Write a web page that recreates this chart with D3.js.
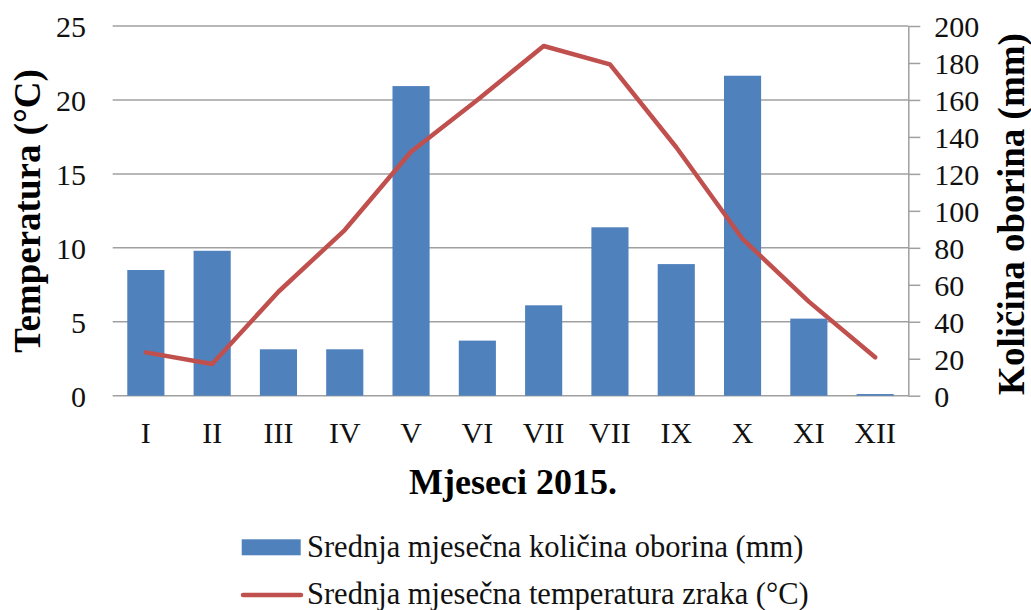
<!DOCTYPE html>
<html>
<head>
<meta charset="utf-8">
<script src="https://cdn.jsdelivr.net/npm/d3@7"></script>
<style>
  body { margin: 0; background: #fff; }
  svg text { font-family: "Liberation Serif", "Times New Roman", serif; }
</style>
</head>
<body>
<script>
// months 2015
var months = ["I", "II", "III", "IV", "V", "VI", "VII", "VII", "IX", "X", "XI", "XII"];
// precipitation (mm), right axis
var precip = [68, 78.4, 25.1, 25.1, 167.5, 29.8, 48.9, 91.1, 71.2, 173.1, 41.7, 0.9];
// air temperature (°C), left axis
var temp = [2.93, 2.14, 7.03, 11.2, 16.5, 20.0, 23.65, 22.4, 16.8, 10.6, 6.36, 2.6];
var tempTicks = [0, 5, 10, 15, 20, 25];
var precipTicks = [0, 20, 40, 60, 80, 100, 120, 140, 160, 180, 200];

var width = 1031,
  height = 610;
var plotLeft = 112.7,
  plotRight = 908.3,
  plotTop = 26,
  plotBottom = 395.7;
var serif = "Liberation Serif";

var svg = d3
  .select("body")
  .append("svg")
  .attr("width", width)
  .attr("height", height);

var x = d3
  .scaleBand()
  .domain(d3.range(months.length))
  .range([plotLeft, plotRight])
  .paddingInner(0.44)
  .paddingOuter(0.22);
var yT = d3.scaleLinear().domain([0, 25]).range([plotBottom, plotTop]);
var yP = d3.scaleLinear().domain([0, 200]).range([plotBottom, plotTop]);

// gridlines
svg
  .append("g")
  .selectAll("line")
  .data(tempTicks)
  .enter()
  .append("line")
  .attr("x1", plotLeft)
  .attr("x2", plotRight)
  .attr("y1", d => yT(d))
  .attr("y2", d => yT(d))
  .attr("stroke", "#a0a0a0")
  .attr("stroke-width", 1.5);

// left tick labels
svg
  .append("g")
  .selectAll("text")
  .data(tempTicks)
  .enter()
  .append("text")
  .attr("x", 86)
  .attr("y", d => yT(d))
  .attr("dy", "0.36em")
  .attr("text-anchor", "end")
  .attr("font-family", serif)
  .attr("font-size", 30)
  .attr("fill", "#111")
  .text(d => d);

// right axis
var rAxis = svg
  .append("g")
  .attr("transform", "translate(" + plotRight + ",0)")
  .call(
    d3
      .axisRight(yP)
      .tickValues(precipTicks)
      .tickSize(12)
      .tickPadding(14)
      .tickSizeOuter(0)
  );
rAxis.select(".domain").attr("stroke", "#a0a0a0").attr("stroke-width", 1.5);
rAxis.selectAll(".tick line").attr("stroke", "#a0a0a0").attr("stroke-width", 1.5);
rAxis
  .selectAll(".tick text")
  .attr("font-family", serif)
  .attr("font-size", 30)
  .attr("fill", "#111")
  .attr("dy", "0.36em");

// bars
svg
  .append("g")
  .selectAll("rect")
  .data(precip)
  .enter()
  .append("rect")
  .attr("x", (d, i) => x(i))
  .attr("width", x.bandwidth())
  .attr("y", d => yP(d))
  .attr("height", d => yP(0) - yP(d))
  .attr("fill", "#4f81bd");

// temperature line
var line = d3
  .line()
  .x((d, i) => x(i) + x.bandwidth() / 2)
  .y(d => yT(d));
svg
  .append("path")
  .datum(temp)
  .attr("d", line)
  .attr("fill", "none")
  .attr("stroke", "#c0504d")
  .attr("stroke-width", 4.5)
  .attr("stroke-linejoin", "round")
  .attr("stroke-linecap", "round");

// category labels
svg
  .append("g")
  .selectAll("text")
  .data(months)
  .enter()
  .append("text")
  .attr("x", (d, i) => x(i) + x.bandwidth() / 2)
  .attr("y", 443)
  .attr("text-anchor", "middle")
  .attr("font-family", serif)
  .attr("font-size", 30)
  .attr("fill", "#111")
  .text(d => d);

// axis titles
svg
  .append("text")
  .attr("transform", "translate(40,211) rotate(-90)")
  .attr("text-anchor", "middle")
  .attr("font-family", serif)
  .attr("font-size", 37)
  .attr("font-weight", "bold")
  .text("Temperatura (°C)");
svg
  .append("text")
  .attr("transform", "translate(1024,214) rotate(-90)")
  .attr("text-anchor", "middle")
  .attr("font-family", serif)
  .attr("font-size", 37)
  .attr("font-weight", "bold")
  .text("Količina oborina (mm)");
svg
  .append("text")
  .attr("x", 513)
  .attr("y", 494)
  .attr("text-anchor", "middle")
  .attr("font-family", serif)
  .attr("font-size", 36)
  .attr("font-weight", "bold")
  .text("Mjeseci 2015.");

// legend
var legend = svg.append("g");
legend
  .append("rect")
  .attr("x", 241.7)
  .attr("y", 539.3)
  .attr("width", 59)
  .attr("height", 16)
  .attr("fill", "#4f81bd");
legend
  .append("text")
  .attr("x", 307)
  .attr("y", 557)
  .attr("font-family", serif)
  .attr("font-size", 30.5)
  .attr("fill", "#111")
  .text("Srednja mjesečna količina oborina (mm)");
legend
  .append("line")
  .attr("x1", 243)
  .attr("x2", 301)
  .attr("y1", 595)
  .attr("y2", 595)
  .attr("stroke", "#c0504d")
  .attr("stroke-width", 4.5)
  .attr("stroke-linecap", "round");
legend
  .append("text")
  .attr("x", 307)
  .attr("y", 604)
  .attr("font-family", serif)
  .attr("font-size", 30.5)
  .attr("fill", "#111")
  .text("Srednja mjesečna temperatura zraka (°C)");
</script>
</body>
</html>
